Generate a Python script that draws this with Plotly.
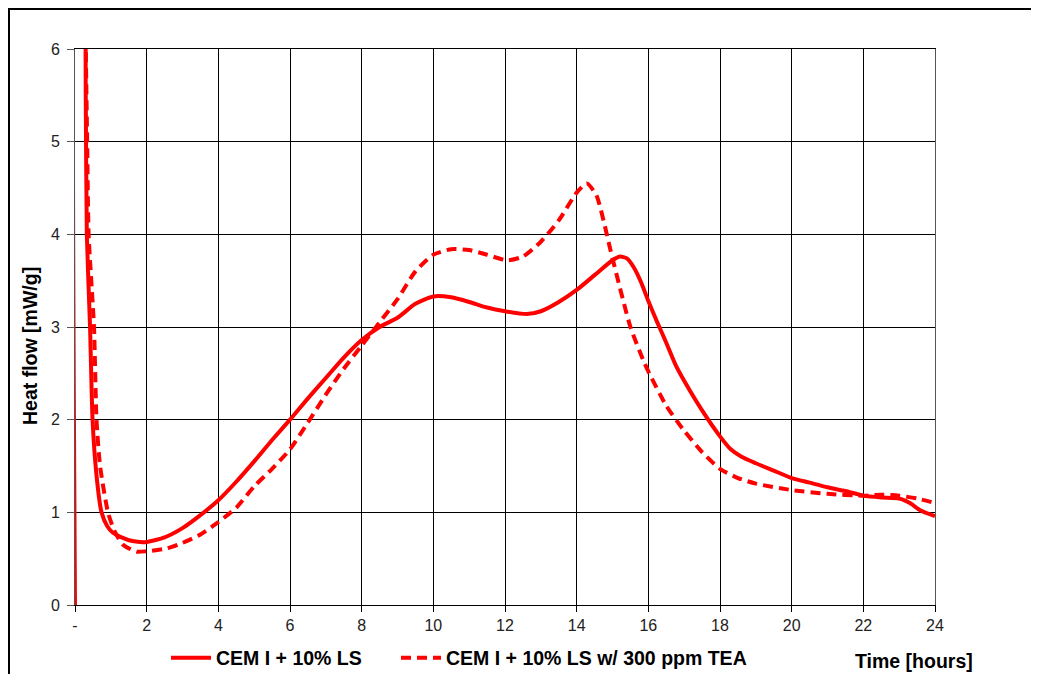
import plotly.graph_objects as go

# ---- data ----
t_ls = [0.0, 0.02, 0.25, 0.30, 0.33, 0.42, 0.49, 0.60, 0.74, 0.90, 1.06, 1.30, 1.60,
        2.0, 2.5, 3.0, 3.5, 4.0, 4.5, 5.0, 5.5, 6.0, 6.5, 7.0, 7.5, 8.0, 8.5, 9.0,
        9.5, 10.0, 10.5, 11.0, 11.5, 12.0, 12.6, 13.0, 13.5, 14.0, 14.5, 15.0, 15.21,
        15.4, 15.6, 15.8, 16.0, 16.25, 16.5, 16.75, 17.0, 17.5, 18.0, 18.3, 18.6, 19.0,
        19.5, 20.0, 20.5, 21.0, 21.5, 22.0, 22.5, 23.0, 23.3, 23.6, 24.0]
q_ls = [0.0, 8.0, 7.5, 5.5, 4.0, 3.0, 2.0, 1.4, 1.0, 0.85, 0.78, 0.73, 0.69,
        0.68, 0.73, 0.83, 0.97, 1.13, 1.33, 1.55, 1.78, 2.0, 2.23, 2.45, 2.67, 2.86, 3.0, 3.1,
        3.25, 3.33, 3.32, 3.27, 3.21, 3.17, 3.14, 3.17, 3.27, 3.40, 3.56, 3.72, 3.76,
        3.74, 3.64, 3.48, 3.28, 3.05, 2.83, 2.60, 2.42, 2.10, 1.82, 1.68, 1.60, 1.53,
        1.45, 1.37, 1.32, 1.27, 1.23, 1.18, 1.16, 1.15, 1.10, 1.02, 0.96]

t_tea = [0.25, 0.30, 0.34, 0.38, 0.53, 0.60, 0.70, 0.92, 1.10, 1.34, 1.72, 2.0, 2.56,
         3.0, 3.5, 3.95, 4.5, 5.0, 5.5, 6.0, 6.5, 7.0, 7.5, 8.0, 8.5, 9.0, 9.5, 10.0,
         10.5, 11.0, 11.5, 12.05, 12.5, 13.0, 13.5, 14.0, 14.28, 14.55, 15.0, 15.5, 15.86,
         16.0, 16.5, 17.0, 17.5, 18.0, 18.5, 19.0, 20.0, 21.0, 22.0, 22.5, 23.0, 23.5, 24.0]
q_tea = [7.0, 6.0, 5.0, 4.0, 3.0, 2.0, 1.5, 1.0, 0.80, 0.65, 0.575, 0.58, 0.61,
         0.67, 0.76, 0.88, 1.05, 1.28, 1.47, 1.68, 1.97, 2.27, 2.55, 2.80, 3.05, 3.30, 3.60, 3.78,
         3.84, 3.83, 3.78, 3.72, 3.76, 3.92, 4.15, 4.45, 4.55, 4.42, 3.74, 3.00, 2.64,
         2.52, 2.15, 1.88, 1.65, 1.47, 1.37, 1.31, 1.24, 1.20, 1.18, 1.19, 1.18, 1.15, 1.10]

x_tickvals = [0, 2, 4, 6, 8, 10, 12, 14, 16, 18, 20, 22, 24]
x_ticktext = ["-", "2", "4", "6", "8", "10", "12", "14", "16", "18", "20", "22", "24"]
y_tickvals = [0, 1, 2, 3, 4, 5, 6]

names = ["CEM I + 10% LS", "CEM I + 10% LS w/ 300 ppm TEA"]

RED = "#FF0000"
FONT = "Liberation Sans, Arial, sans-serif"

OFF = 8                      # page body margin
W, H = 1023, 666
L, T = 67, 41
pw, ph = 860, 556
R = W - L - pw
B = H - T - ph

def px(x_page):
    return (x_page - OFF - L) / pw

def py(y_page):
    return (H - B - (y_page - OFF)) / ph

legend_font = dict(family=FONT, size=19.5, color="#000000", weight="bold")

fig = go.Figure()
fig.add_trace(go.Scatter(x=t_ls, y=q_ls, mode="lines", name=names[0], legend="legend",
                         line=dict(color=RED, width=4, shape="spline", smoothing=0.6)))
fig.add_trace(go.Scatter(x=t_tea, y=q_tea, mode="lines", name=names[1], legend="legend2",
                         line=dict(color=RED, width=4, dash="10px,6px", shape="spline", smoothing=0.6)))

fig.update_layout(
    width=W, height=H,
    margin=dict(l=L, r=R, t=T, b=B, autoexpand=False),
    paper_bgcolor="white", plot_bgcolor="white",
    font=dict(family=FONT, size=16, color="#222222"),
    showlegend=True,
    legend=dict(orientation="h", x=px(166), y=py(658), xanchor="left", yanchor="middle",
                font=legend_font, itemwidth=40, bgcolor="rgba(0,0,0,0)"),
    legend2=dict(orientation="h", x=px(396), y=py(658), xanchor="left", yanchor="middle",
                 font=legend_font, itemwidth=40, bgcolor="rgba(0,0,0,0)"),
    xaxis=dict(range=[0, 24], tickmode="array", tickvals=x_tickvals, ticktext=x_ticktext,
               showgrid=True, gridcolor="#000000", gridwidth=1,
               showline=True, linecolor="#000000", linewidth=1, mirror=True,
               ticks="outside", ticklen=6, tickcolor="#000000", tickwidth=1,
               zeroline=False, tickfont=dict(size=16, color="#222222")),
    yaxis=dict(range=[0, 6], tickmode="array", tickvals=y_tickvals,
               showgrid=True, gridcolor="#000000", gridwidth=1,
               showline=True, linecolor="#555555", linewidth=1, mirror=True,
               ticks="outside", ticklen=7, tickcolor="#555555", tickwidth=1,
               ticklabelstandoff=4,
               zeroline=False, tickfont=dict(size=16, color="#222222")),
    annotations=[
        # outer chart frame (right/bottom edges fall outside the picture, as in the reference)
        dict(text=" ", xref="paper", yref="paper", x=px(8), y=py(8),
             xanchor="left", yanchor="top", showarrow=False,
             width=1150, height=760, borderwidth=2, bordercolor="#000000", borderpad=0,
             bgcolor="rgba(0,0,0,0)"),
        dict(text="Heat flow [mW/g]", xref="paper", yref="paper", x=px(30), y=py(346),
             xanchor="center", yanchor="middle", textangle=-90, showarrow=False,
             font=dict(family=FONT, size=19.5, color="#000000", weight="bold")),
        dict(text="Time [hours]", xref="paper", yref="paper", x=px(914), y=py(661),
             xanchor="center", yanchor="middle", showarrow=False,
             font=dict(family=FONT, size=19.5, color="#000000", weight="bold")),
    ],
)

fig.write_html("out.html")
